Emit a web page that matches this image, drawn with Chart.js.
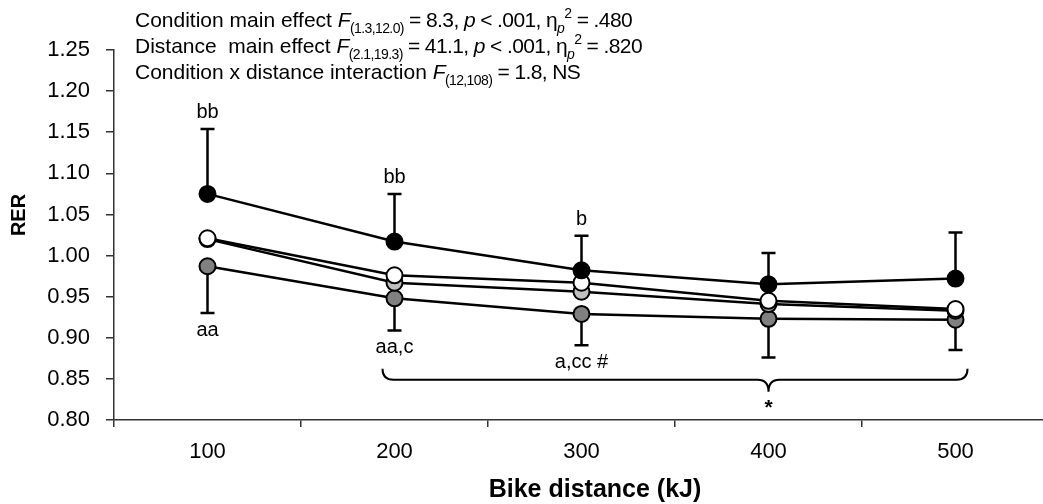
<!DOCTYPE html>
<html>
<head>
<meta charset="utf-8">
<script src="https://cdn.jsdelivr.net/npm/chart.js@4.4.1/dist/chart.umd.min.js"></script>
<style>
  html, body { margin: 0; padding: 0; background: #fff; overflow: hidden; }
  #wrap { width: 1060px; height: 504px; position: relative; }
</style>
</head>
<body>
<div id="wrap"><canvas id="rerChart"></canvas></div>
<script>
// Datos
const distancias = ["100", "200", "300", "400", "500"];
const serieNegra = [1.075, 1.017, 0.982, 0.965, 0.972];
const serieBlanca = [1.021, 0.976, 0.967, 0.945, 0.935];
const serieGrisClaro = [1.020, 0.967, 0.956, 0.941, 0.933];
const serieGrisOscuro = [0.987, 0.948, 0.929, 0.923, 0.922];
// extremos de las barras de error (arriba en la negra, abajo en la gris oscura)
const errorArriba = [1.154, 1.075, 1.024, 1.003, 1.028];
const errorAbajo = [0.930, 0.909, 0.891, 0.876, 0.885];
// letras de significación
const letrasArriba = ["bb", "bb", "b", "", ""];
const letrasAbajo = ["aa", "aa,c", "a,cc #", "", ""];
const ticksY = [0.80, 0.85, 0.90, 0.95, 1.00, 1.05, 1.10, 1.15, 1.20, 1.25];

const FUENTE = "'Liberation Sans', Arial, sans-serif";

// texto con cursivas, subíndices y superíndices
function textoRico(ctx, partes, x, y) {
  let cx = x;
  partes.forEach((p, k) => {
    let s = 21, dy = 0, estilo = "";
    if (p.i) estilo = "italic ";
    if (p.sub) { s = 14; dy = 6; }
    if (p.sup) { s = 14; dy = -9; }
    ctx.font = estilo + s + "px " + FUENTE;
    ctx.letterSpacing = k === 0 ? "0px" : "-0.6px";
    ctx.fillText(p.t, cx, y + dy);
    cx += ctx.measureText(p.t).width;
  });
  ctx.letterSpacing = "0px";
}

const anotaciones = {
  id: "anotaciones",
  beforeDatasetsDraw(chart) {
    const { ctx, scales: { x, y } } = chart;
    ctx.save();
    ctx.strokeStyle = "#000";
    ctx.lineWidth = 2.5;
    const cap = 7;
    distancias.forEach((d, i) => {
      const px = x.getPixelForValue(i);
      const yTop = y.getPixelForValue(errorArriba[i]);
      const yNeg = y.getPixelForValue(serieNegra[i]);
      const yBot = y.getPixelForValue(errorAbajo[i]);
      const yGris = y.getPixelForValue(serieGrisOscuro[i]);
      ctx.beginPath();
      ctx.moveTo(px, yNeg); ctx.lineTo(px, yTop);
      ctx.moveTo(px - cap, yTop); ctx.lineTo(px + cap, yTop);
      ctx.moveTo(px, yGris); ctx.lineTo(px, yBot);
      ctx.moveTo(px - cap, yBot); ctx.lineTo(px + cap, yBot);
      ctx.stroke();
    });
    ctx.restore();
  },
  afterDatasetsDraw(chart) {
    const { ctx, scales: { x, y } } = chart;
    ctx.save();
    ctx.fillStyle = "#000";
    ctx.textAlign = "center";
    ctx.font = "20px " + FUENTE;
    distancias.forEach((d, i) => {
      const px = x.getPixelForValue(i);
      if (letrasArriba[i]) {
        ctx.textBaseline = "bottom";
        ctx.fillText(letrasArriba[i], px, y.getPixelForValue(errorArriba[i]) - 6);
      }
      if (letrasAbajo[i]) {
        ctx.textBaseline = "top";
        ctx.fillText(letrasAbajo[i], px, y.getPixelForValue(errorAbajo[i]) + 7);
      }
    });

    // llave bajo 200-500 kJ
    const xa = x.getPixelForValue(1) - 12;
    const xb = x.getPixelForValue(4) + 12;
    const xm = x.getPixelForValue(3);
    const yb = y.getPixelForValue(0.849);
    ctx.strokeStyle = "#000";
    ctx.lineWidth = 2;
    ctx.beginPath();
    ctx.moveTo(xa, yb - 11);
    ctx.quadraticCurveTo(xa, yb, xa + 11, yb);
    ctx.lineTo(xm - 11, yb);
    ctx.quadraticCurveTo(xm, yb, xm, yb + 12);
    ctx.quadraticCurveTo(xm, yb, xm + 11, yb);
    ctx.lineTo(xb - 11, yb);
    ctx.quadraticCurveTo(xb, yb, xb, yb - 11);
    ctx.stroke();
    ctx.font = "bold 21px " + FUENTE;
    ctx.textBaseline = "middle";
    ctx.fillText("*", xm, yb + 28);

    // títulos de los ejes
    ctx.font = "bold 25px " + FUENTE;
    ctx.fillText("Bike distance (kJ)", 595, 490);
    ctx.save();
    ctx.translate(19, 215);
    ctx.rotate(-Math.PI / 2);
    ctx.font = "bold 20px " + FUENTE;
    ctx.fillText("RER", 0, 0);
    ctx.restore();

    // estadísticos
    ctx.textAlign = "left";
    ctx.textBaseline = "alphabetic";
    textoRico(ctx, [
      { t: "Condition main effect " }, { t: "F", i: true }, { t: "(1.3,12.0)", sub: true },
      { t: " = 8.3, " }, { t: "p", i: true }, { t: " < .001, η" }, { t: "p", i: true, sub: true },
      { t: "2", sup: true }, { t: " = .480" },
    ], 135, 27);
    textoRico(ctx, [
      { t: "Distance  main effect " }, { t: "F", i: true }, { t: "(2.1,19.3)", sub: true },
      { t: " = 41.1, " }, { t: "p", i: true }, { t: " < .001, η" }, { t: "p", i: true, sub: true },
      { t: "2", sup: true }, { t: " = .820" },
    ], 135, 53);
    textoRico(ctx, [
      { t: "Condition x distance interaction " }, { t: "F", i: true }, { t: "(12,108)", sub: true },
      { t: " = 1.8, NS" },
    ], 135, 79);
    ctx.restore();
  },
};

function serie(label, data, fill) {
  return {
    label: label,
    data: data,
    borderColor: "#000",
    borderWidth: 2.5,
    backgroundColor: fill,
    pointBackgroundColor: fill,
    pointBorderColor: "#000",
    pointBorderWidth: 2,
    pointRadius: 8,
    pointHoverRadius: 8,
    tension: 0,
    fill: false,
  };
}

new Chart(document.getElementById("rerChart"), {
  type: "line",
  data: {
    labels: distancias,
    datasets: [
      serie("Negra", serieNegra, "#000000"),
      serie("Blanca", serieBlanca, "#ffffff"),
      serie("Gris claro", serieGrisClaro, "#c0c0c0"),
      serie("Gris oscuro", serieGrisOscuro, "#808080"),
    ],
  },
  options: {
    responsive: true,
    maintainAspectRatio: false,
    animation: false,
    layout: { padding: { top: 50, right: 11, left: 0, bottom: 0 } },
    plugins: { legend: { display: false }, tooltip: { enabled: false } },
    scales: {
      x: {
        offset: true,
        afterFit: (scale) => { scale.height = 84; },
        grid: { offset: true, drawOnChartArea: false, tickLength: 7, color: "#333", lineWidth: 1.5 },
        border: { color: "#333", width: 1.5 },
        ticks: { color: "#000", padding: 12, font: { family: FUENTE, size: 22 } },
      },
      y: {
        min: 0.8,
        max: 1.25,
        afterFit: (scale) => { scale.width = 114; },
        afterBuildTicks: (scale) => { scale.ticks = ticksY.map((v) => ({ value: v })); },
        grid: { drawOnChartArea: false, tickLength: 8, color: "#333", lineWidth: 1.5 },
        border: { color: "#333", width: 1.5 },
        ticks: {
          color: "#000",
          padding: 16,
          font: { family: FUENTE, size: 22 },
          callback: (v) => v.toFixed(2),
        },
      },
    },
  },
  plugins: [anotaciones],
});
</script>
</body>
</html>
